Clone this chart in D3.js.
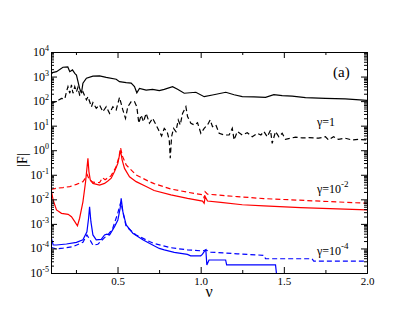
<!DOCTYPE html>
<html>
<head>
<meta charset="utf-8">
<script src="https://d3js.org/d3.v7.min.js"></script>
<style>
body{margin:0;background:#fff;}
svg text{font-family:"Liberation Serif","Times New Roman","DejaVu Serif",serif !important;fill:#000;}
</style>
</head>
<body>
<svg id="vis" width="407" height="315"></svg>
<script>
// values: nu, and log10 of |F|
var xTicks = [0.5, 1.0, 1.5, 2.0];
var xMinor = [0.25, 0.75, 1.25, 1.75];
var yExps = [-5, -4, -3, -2, -1, 0, 1, 2, 3, 4];

// gamma = 1, solid
var k1Nu  = [0.1,0.109,0.133,0.172,0.201,0.213,0.229,0.243,0.253,0.272,0.283,0.292,0.313,0.352,0.392,0.432,0.492,0.512,0.552,0.582,0.602,0.616,0.632,0.672,0.711,0.751,0.781,0.831,0.861,0.901,0.971,1.021,1.071,1.151,1.201,1.250,1.320,1.390,1.440,1.490,1.550,1.630,1.750,1.869,2.0];
var k1Log = [3.08,3.16,3.20,3.38,3.39,3.20,3.27,3.13,3.06,2.52,2.32,2.73,2.93,3.02,3.03,2.97,2.89,2.79,2.75,2.73,2.59,2.34,2.52,2.45,2.48,2.43,2.48,2.59,2.48,2.32,2.36,2.18,2.25,2.36,2.26,2.18,2.17,2.15,2.26,2.22,2.20,2.14,2.11,2.09,2.03];
// gamma = 1, dashed
var k1dNu  = [0.1,0.133,0.163,0.183,0.193,0.202,0.213,0.223,0.232,0.243,0.253,0.262,0.272,0.292,0.313,0.322,0.343,0.352,0.372,0.392,0.412,0.432,0.452,0.472,0.492,0.512,0.532,0.548,0.562,0.582,0.602,0.616,0.628,0.642,0.656,0.672,0.692,0.711,0.732,0.747,0.765,0.781,0.798,0.811,0.817,0.825,0.837,0.851,0.865,0.877,0.891,0.911,0.921,0.941,0.961,0.981,1.001,1.021,1.041,1.057,1.071,1.091,1.111,1.141,1.171,1.190,1.201,1.220,1.250,1.280,1.310,1.340,1.362,1.380,1.400,1.420,1.430,1.450,1.470,1.490,1.510,1.540,1.570,1.610,1.650,1.710,1.750,1.769,1.799,1.829,1.869,1.909,1.949,2.0];
var k1dLog = [1.91,1.99,2.11,2.09,2.38,2.59,2.32,2.66,2.32,2.59,2.38,2.56,2.25,2.38,2.05,2.18,1.77,1.94,1.71,1.84,1.57,1.77,1.50,1.77,1.64,2.15,1.64,1.30,1.77,1.98,1.98,1.77,1.10,1.43,1.16,1.50,1.10,1.30,1.03,0.82,0.58,0.89,0.76,0.42,-0.33,0.55,0.89,0.76,1.23,1.03,1.50,1.77,1.37,1.10,1.03,1.12,0.69,0.89,1.03,1.23,0.96,1.03,0.69,0.62,0.62,0.89,0.42,0.76,0.62,0.71,0.55,0.69,0.62,0.76,0.55,0.82,0.28,0.76,0.55,0.69,0.44,0.49,0.53,0.50,0.51,0.49,0.55,0.42,0.55,0.44,0.49,0.42,0.44,0.42];

// gamma = 1e-2, solid
var k2Nu  = [0.1,0.103,0.113,0.133,0.163,0.203,0.223,0.243,0.259,0.272,0.292,0.308,0.316,0.322,0.328,0.336,0.352,0.392,0.422,0.442,0.462,0.482,0.502,0.512,0.518,0.528,0.542,0.572,0.612,0.672,0.72,0.821,0.921,1.011,1.021,1.027,1.041,1.121,1.25,1.38,1.6,2.0];
var k2Log = [-1.62,-1.69,-2.03,-2.43,-2.57,-2.61,-2.71,-2.91,-3.08,-2.77,-2.10,-1.28,-0.74,-0.33,-0.87,-1.21,-1.35,-1.42,-1.35,-1.25,-1.14,-0.87,-0.53,-0.19,-0.02,-0.40,-0.74,-1.08,-1.28,-1.48,-1.64,-1.82,-1.96,-2.07,-2.16,-1.89,-2.07,-2.12,-2.22,-2.27,-2.34,-2.43];
// gamma = 1e-2, dashed
var k2dNu  = [0.1,0.133,0.172,0.213,0.253,0.292,0.313,0.318,0.33,0.352,0.392,0.41,0.425,0.46,0.49,0.508,0.518,0.53,0.552,0.612,0.692,0.72,0.821,0.921,1.015,1.021,1.027,1.041,1.22,1.38,2.0];
var k2dLog = [-1.60,-1.55,-1.52,-1.48,-1.39,-1.28,-1.08,-1.0,-1.2,-1.30,-1.32,-1.12,-1.2,-1.05,-0.7,-0.3,0.1,-0.25,-0.60,-1.01,-1.28,-1.36,-1.58,-1.71,-1.82,-1.96,-1.69,-1.79,-1.89,-1.97,-2.16];

// gamma = 1e-4, solid
var k4Nu  = [0.1,0.103,0.113,0.133,0.193,0.253,0.292,0.316,0.326,0.332,0.340,0.352,0.372,0.402,0.422,0.436,0.452,0.482,0.502,0.516,0.522,0.532,0.552,0.592,0.652,0.711,0.751,0.781,0.841,0.92,0.94,1.0,1.01,1.021,1.031,1.037,1.05,1.15,1.156,1.45,1.46];
var k4Log = [-3.50,-3.59,-3.86,-3.86,-3.82,-3.75,-3.65,-3.32,-2.77,-2.30,-2.91,-3.45,-3.65,-3.63,-3.45,-3.42,-3.45,-3.11,-2.84,-2.36,-1.96,-2.50,-3.04,-3.38,-3.65,-3.86,-4.0,-4.06,-4.16,-4.24,-4.30,-4.30,-4.24,-4.13,-4.06,-4.67,-4.47,-4.47,-4.67,-4.67,-5.3];
// gamma = 1e-4, dashed
var k4dNu  = [0.1,0.133,0.172,0.232,0.292,0.316,0.33,0.352,0.382,0.422,0.442,0.47,0.5,0.52,0.535,0.552,0.612,0.692,0.72,0.821,0.921,1.011,1.031,1.06,1.22,1.38,1.39,1.67,1.68,2.0];
var k4dLog = [-3.95,-4.02,-3.99,-3.93,-3.75,-3.45,-3.6,-3.86,-3.83,-3.56,-3.45,-3.2,-2.6,-2.1,-2.6,-3.11,-3.45,-3.72,-3.80,-3.97,-4.06,-4.10,-4.06,-4.15,-4.22,-4.28,-4.42,-4.42,-4.52,-4.52];

var serif = "Liberation Serif, Times New Roman, DejaVu Serif, serif";
var svg = d3.select("#vis");
var L = 51, R = 367, T = 52, B = 273;

var x = d3.scaleLinear().domain([0.1, 2.0]).range([L, R]);
var y = d3.scaleLog().domain([1e-5, 1e4]).range([B, T]);

var majors = yExps.map(function(e){ return Math.pow(10, e); });
var minors = [];
for (var i = 0; i < yExps.length - 1; i++) {
  for (var m = 2; m <= 9; m++) minors.push(m * Math.pow(10, yExps[i]));
}

svg.append("clipPath").attr("id", "clip")
  .append("rect").attr("x", L).attr("y", T).attr("width", R - L).attr("height", B - T);

function zip(a, b){ return a.map(function(v, i){ return [v, b[i]]; }); }
var line = d3.line()
  .x(function(d){ return x(d[0]); })
  .y(function(d){ return y(Math.pow(10, d[1])); });

var series = [
  {nu: k1Nu, lg: k1Log, c: "#000", dash: null},
  {nu: k1dNu, lg: k1dLog, c: "#000", dash: "5,3"},
  {nu: k2Nu, lg: k2Log, c: "#ff0000", dash: null},
  {nu: k2dNu, lg: k2dLog, c: "#ff0000", dash: "5,3"},
  {nu: k4Nu, lg: k4Log, c: "#0000ff", dash: null},
  {nu: k4dNu, lg: k4dLog, c: "#0000ff", dash: "5,3"}
];
var gLines = svg.append("g").attr("clip-path", "url(#clip)");
series.forEach(function(s){
  gLines.append("path")
    .attr("d", line(zip(s.nu, s.lg)))
    .attr("fill", "none")
    .attr("stroke", s.c)
    .attr("stroke-width", 1.2)
    .attr("stroke-dasharray", s.dash);
});

// axes, ticks pointing inward
var gb = svg.append("g").attr("transform", "translate(0," + B + ")")
  .call(d3.axisBottom(x).tickValues(xTicks).tickSizeInner(-6).tickSizeOuter(0).tickPadding(4)
    .tickFormat(d3.format(".1f")));
gb.attr("font-family", serif);
gb.selectAll("text").attr("font-size", 11).attr("font-family", serif);
svg.append("g").attr("transform", "translate(0," + B + ")")
  .call(d3.axisBottom(x).tickValues(xMinor).tickSizeInner(-3).tickSizeOuter(0).tickFormat(""));
svg.append("g").attr("transform", "translate(0," + T + ")")
  .call(d3.axisTop(x).tickValues(xTicks).tickSizeInner(-6).tickSizeOuter(0).tickFormat(""));
svg.append("g").attr("transform", "translate(0," + T + ")")
  .call(d3.axisTop(x).tickValues(xMinor).tickSizeInner(-3).tickSizeOuter(0).tickFormat(""));

svg.append("g").attr("transform", "translate(" + L + ",0)")
  .call(d3.axisLeft(y).tickValues(majors).tickSizeInner(-6).tickSizeOuter(0).tickFormat(""));
svg.append("g").attr("transform", "translate(" + L + ",0)")
  .call(d3.axisLeft(y).tickValues(minors).tickSizeInner(-3).tickSizeOuter(0).tickFormat(""));
svg.append("g").attr("transform", "translate(" + R + ",0)")
  .call(d3.axisRight(y).tickValues(majors).tickSizeInner(-6).tickSizeOuter(0).tickFormat(""));
svg.append("g").attr("transform", "translate(" + R + ",0)")
  .call(d3.axisRight(y).tickValues(minors).tickSizeInner(-3).tickSizeOuter(0).tickFormat(""));
svg.selectAll(".domain").attr("stroke", "#000");
svg.selectAll(".tick line").attr("stroke", "#000");

// y tick labels as 10^n
yExps.forEach(function(e){
  var t = svg.append("text")
    .attr("x", L - 2).attr("y", y(Math.pow(10, e)) + 4)
    .attr("text-anchor", "end").attr("font-size", 12).attr("font-family", serif);
  t.append("tspan").text("10");
  t.append("tspan").attr("dy", -5).attr("font-size", 8).text(e);
});

// axis titles
svg.append("text").attr("transform", "translate(27,160) rotate(-90)")
  .attr("text-anchor", "middle").attr("font-size", 14).attr("font-family", serif).text("|F|");
svg.append("text").attr("x", 209).attr("y", 297)
  .attr("text-anchor", "middle").attr("font-size", 16).attr("font-family", serif).text("ν");

// annotations
svg.append("text").attr("x", 333).attr("y", 77).attr("font-size", 15).attr("font-family", serif).text("(a)");
svg.append("text").attr("x", 317).attr("y", 126).attr("font-size", 12).attr("font-family", serif).text("γ=1");
var g2 = svg.append("text").attr("x", 317).attr("y", 193).attr("font-size", 12).attr("font-family", serif);
g2.append("tspan").text("γ=10");
g2.append("tspan").attr("dy", -6).attr("font-size", 9).text("-2");
var g4 = svg.append("text").attr("x", 317).attr("y", 255).attr("font-size", 12).attr("font-family", serif);
g4.append("tspan").text("γ=10");
g4.append("tspan").attr("dy", -6).attr("font-size", 9).text("-4");
</script>
</body>
</html>
